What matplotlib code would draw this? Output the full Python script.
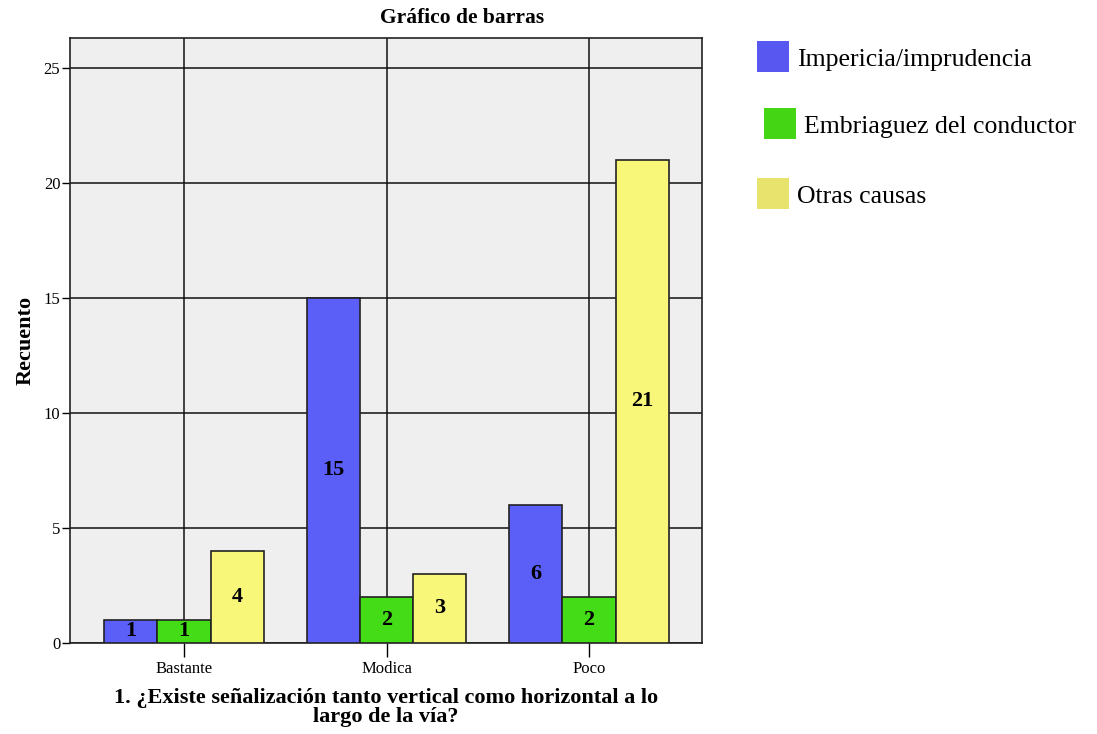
import matplotlib
matplotlib.use("Agg")
import matplotlib.pyplot as plt
import numpy as np
from matplotlib.patches import Rectangle

categories = ["Bastante", "Modica", "Poco"]
series_names = ["Impericia/imprudencia", "Embriaguez del conductor", "Otras causas"]
impericia = [1, 15, 6]
embriaguez = [1, 2, 2]
otras = [4, 3, 21]
yticks = [0, 5, 10, 15, 20, 25]

bar_colors = ["#5b5ef7", "#44dc16", "#f9f77a"]
legend_colors = ["#5858f0", "#44d614", "#e8e36c"]

plt.rcParams['font.family'] = ['Liberation Serif', 'DejaVu Serif']

W, H = 1097, 734
fig = plt.figure(figsize=(W/100, H/100), dpi=100)
ax = fig.add_axes([70/W, 1-643/H, (702-70)/W, (643-38)/H])
ax.set_facecolor("#efefef")

x = np.arange(len(categories))
w = 0.263
for i, (vals, col) in enumerate(zip([impericia, embriaguez, otras], bar_colors)):
    bars = ax.bar(x + (i-1)*w, vals, width=w, color=col, edgecolor="#222222", linewidth=1.2, zorder=3)
    for b, v in zip(bars, vals):
        ax.text(b.get_x()+b.get_width()/2, v/2, str(v), ha="center", va="center",
                fontsize=16, fontweight="bold", zorder=4)

ax.set_xlim(-0.563, 2.558)
ax.set_ylim(0, 26.3)
ax.set_yticks(yticks)
ax.set_xticks(x)
ax.set_xticklabels(categories, fontsize=12)
ax.tick_params(axis="y", labelsize=12, length=6, width=1, pad=1)
ax.tick_params(axis="x", length=10, width=1, pad=3)
ax.grid(True, color="#111111", linewidth=1.1, zorder=0)
ax.set_axisbelow(True)
for s in ax.spines.values():
    s.set_linewidth(1.2)
    s.set_color("#222222")

ax.set_ylabel("Recuento", fontsize=16, fontweight="bold", labelpad=6)
ax.set_xlabel("1. ¿Existe señalización tanto vertical como horizontal a lo\nlargo de la vía?",
              fontsize=16, fontweight="bold", labelpad=8, linespacing=0.95)
fig.text(462/W, 1-18/H, "Gráfico de barras", fontsize=15.5, fontweight="bold",
         ha="center", va="center")

# legend entries (patch x0, patch y0, text x)
leg_patch_x = [757, 764, 757]
leg_patch_y = [41, 108, 178]
leg_text_x = [797, 804, 797]
for name, col, px, py, tx in zip(series_names, legend_colors, leg_patch_x, leg_patch_y, leg_text_x):
    fig.add_artist(Rectangle((px/W, 1-(py+31)/H), 32/W, 31/H, transform=fig.transFigure,
                             facecolor=col, edgecolor="none"))
    fig.text(tx/W, 1-(py+19)/H, name, fontsize=18.5, ha="left", va="center")

fig.savefig("out.png", dpi=100)
